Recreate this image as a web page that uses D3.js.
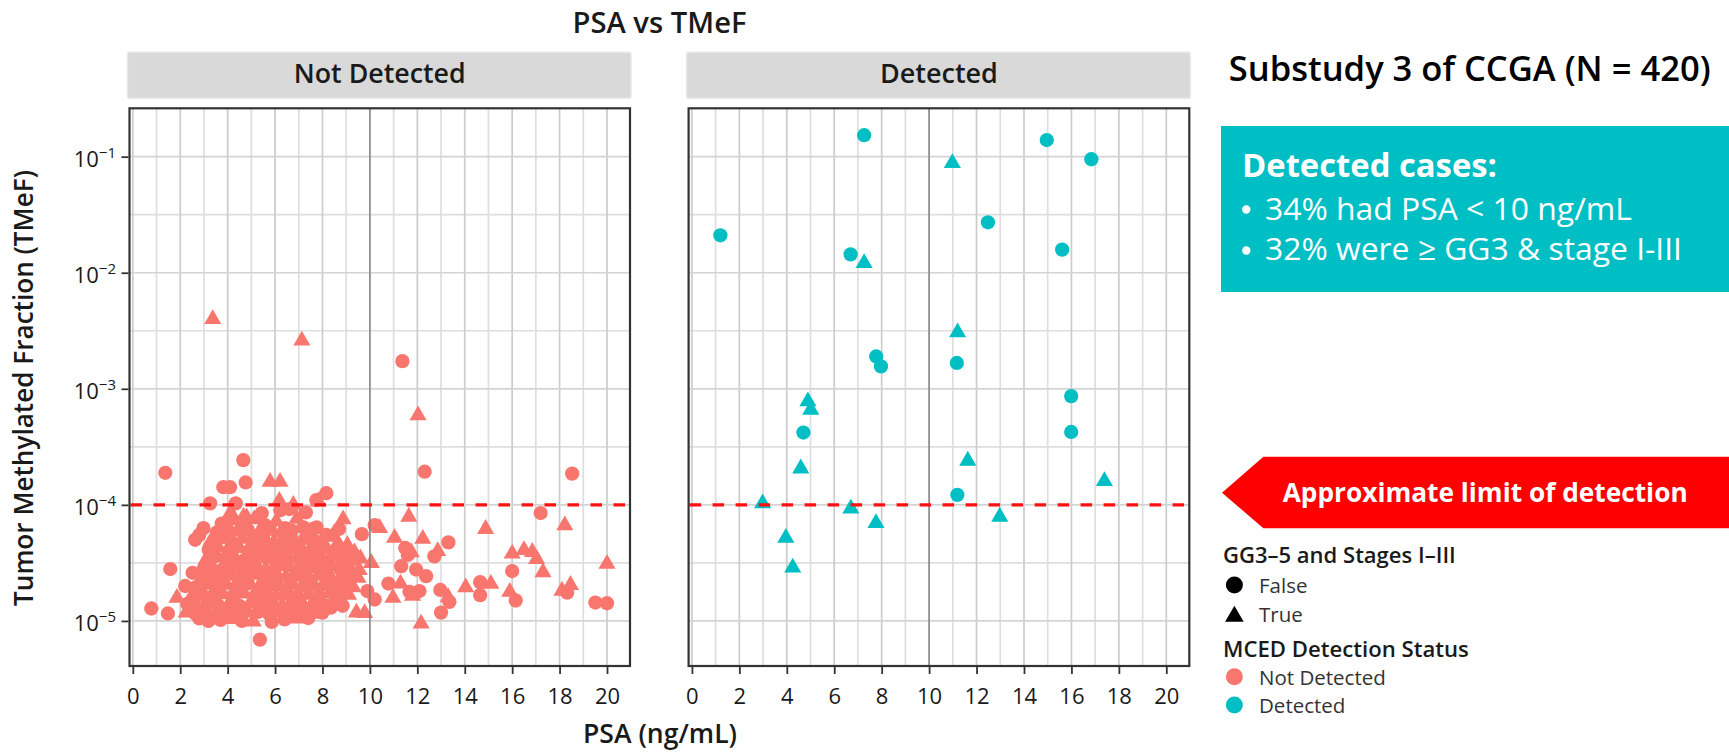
<!DOCTYPE html>
<html>
<head>
<meta charset="utf-8">
<script src="https://cdn.jsdelivr.net/npm/d3@7"></script>
<style>
  body { margin: 0; background: #fff; }
  svg { display: block; }
  text { font-family: "Open Sans", "Noto Sans", sans-serif; }
</style>
</head>
<body>
<script>
// ---- data ----
const facets = ['Not Detected', 'Detected'];
const xTicks = [0, 2, 4, 6, 8, 10, 12, 14, 16, 18, 20];
const xMinorTicks = [1, 3, 5, 7, 9, 11, 13, 15, 17, 19];
const yTicks = [1e-1, 1e-2, 1e-3, 1e-4, 1e-5];
const yTickExponents = ['\u22121', '\u22122', '\u22123', '\u22124', '\u22125'];
const yMinorTicks = [3.162e-2, 3.162e-3, 3.162e-4, 3.162e-5];
const limitOfDetection = 1e-4;
const psaCutoff = 10;

// [PSA, TMeF] - circles: GG3-5 and stages I-III = False
const notDetectedFalse = [
  [11.37, 1.73e-3],
  [1.37, 1.89e-4], [4.66, 2.43e-4], [12.31, 1.93e-4], [18.53, 1.86e-4],
  [4.76, 1.56e-4], [3.82, 1.42e-4], [4.10, 1.42e-4], [8.16, 1.26e-4], [7.74, 1.1e-4],
  [3.26, 1.03e-4], [4.34, 1.03e-4], [5.44, 8.5e-5], [6.22, 9.0e-5], [6.6, 9.2e-5],
  [7.3, 8.6e-5], [17.2, 8.5e-5], [6.42, 6.3e-5], [2.98, 6.3e-5], [2.8, 5.5e-5],
  [2.63, 5.0e-5], [10.2, 6.7e-5], [9.66, 5.6e-5], [13.31, 4.75e-5], [11.49, 4.25e-5],
  [11.6, 3.7e-5], [12.72, 3.6e-5], [11.32, 2.96e-5], [11.95, 2.77e-5], [12.37, 2.43e-5],
  [16.0, 2.69e-5], [1.58, 2.8e-5], [2.52, 2.6e-5], [2.21, 2.0e-5], [10.78, 2.1e-5],
  [14.65, 2.16e-5], [11.67, 1.78e-5], [12.09, 1.81e-5], [12.97, 1.85e-5], [9.89, 1.81e-5],
  [18.32, 1.75e-5], [10.2, 1.53e-5], [14.65, 1.67e-5], [16.15, 1.5e-5], [13.35, 1.46e-5],
  [19.51, 1.44e-5], [20.0, 1.42e-5], [8.44, 1.39e-5], [0.78, 1.28e-5], [1.48, 1.16e-5],
  [13.0, 1.18e-5], [3.19, 1.0e-5], [5.86, 9.8e-6], [5.36, 6.9e-6],
  // dense cluster
  [3.75, 6.9e-5], [4.62, 6.8e-5], [5.58, 6.7e-5], [7.2, 6.4e-5], [7.75, 6.4e-5], [8.7, 6.2e-5], [8.16, 5.5e-5],
  [3.55, 5.8e-5], [3.98, 6.2e-5], [4.85, 6.1e-5], [5.78, 6.2e-5], [6.7, 6.0e-5],
  [3.7, 5.2e-5], [4.15, 4.8e-5], [5.05, 4.9e-5], [5.5, 5.2e-5], [6.4, 5.1e-5], [7.3, 5.2e-5], [7.7, 4.8e-5],
  [3.2, 4.1e-5], [4.05, 4.0e-5], [4.95, 4.1e-5], [5.4, 4.3e-5], [6.3, 4.2e-5], [6.75, 4.35e-5], [7.6, 4.2e-5], [8.05, 4.3e-5], [8.95, 4.1e-5],
  [3.45, 3.6e-5], [3.9, 3.45e-5], [4.75, 3.4e-5], [5.65, 3.5e-5], [6.1, 3.4e-5], [7.0, 3.45e-5], [7.9, 3.4e-5], [8.8, 3.5e-5],
  [3.0, 2.85e-5], [3.8, 2.8e-5], [4.25, 2.95e-5], [5.15, 3.0e-5], [6.05, 2.9e-5], [6.5, 3.0e-5], [7.4, 2.95e-5], [8.3, 3.0e-5], [8.75, 2.8e-5],
  [3.3, 2.45e-5], [3.75, 2.35e-5], [4.65, 2.4e-5], [5.55, 2.35e-5], [6.0, 2.45e-5], [6.9, 2.5e-5], [7.35, 2.35e-5], [8.25, 2.4e-5], [9.1, 2.45e-5],
  [2.65, 1.95e-5], [3.5, 1.95e-5], [4.4, 2.0e-5], [4.85, 2.1e-5], [5.75, 2.05e-5], [6.65, 2.1e-5], [7.55, 2.05e-5], [8.45, 1.95e-5], [8.9, 2.05e-5],
  [2.9, 1.7e-5], [3.35, 1.62e-5], [4.25, 1.65e-5], [5.15, 1.62e-5], [5.6, 1.7e-5], [6.5, 1.72e-5], [6.95, 1.62e-5], [7.85, 1.65e-5], [8.75, 1.6e-5],
  [2.3, 1.4e-5], [3.15, 1.42e-5], [3.6, 1.36e-5], [4.5, 1.35e-5], [5.4, 1.37e-5], [5.85, 1.41e-5], [6.75, 1.42e-5], [7.65, 1.4e-5], [8.1, 1.36e-5], [8.85, 1.35e-5],
  [2.65, 1.15e-5], [3.05, 1.2e-5], [3.95, 1.19e-5], [4.4, 1.14e-5], [5.3, 1.2e-5], [5.75, 1.15e-5], [6.65, 1.16e-5], [7.1, 1.2e-5], [8.0, 1.18e-5], [8.35, 1.3e-5],
  [2.8, 1.05e-5], [3.7, 1.02e-5], [4.6, 1.0e-5], [6.4, 1.03e-5], [7.4, 1.06e-5]
];

// triangles: GG3-5 and stages I-III = True
const notDetectedTrue = [
  [3.37, 3.98e-3], [7.13, 2.6e-3], [12.03, 5.9e-4],
  [5.79, 1.58e-4], [6.21, 1.58e-4], [6.18, 1.08e-4], [6.77, 1.0e-4], [7.82, 1.07e-4],
  [4.1, 8.4e-5], [4.8, 7.8e-5], [4.2, 8.1e-5], [4.67, 7.9e-5], [8.87, 7.5e-5],
  [11.64, 7.9e-5], [18.22, 6.65e-5], [14.88, 6.2e-5], [10.41, 6.3e-5], [11.04, 5.2e-5],
  [12.23, 5.1e-5], [12.86, 4.0e-5], [11.75, 3.9e-5], [16.0, 3.8e-5], [16.5, 4.07e-5],
  [16.85, 3.93e-5], [17.03, 3.42e-5], [10.06, 3.16e-5], [9.0, 3.16e-5], [20.0, 3.1e-5],
  [17.3, 2.63e-5], [11.29, 2.1e-5], [15.1, 2.09e-5], [18.46, 2.04e-5], [14.04, 1.95e-5],
  [18.1, 1.82e-5], [15.9, 1.78e-5], [11.8, 1.65e-5], [13.3, 1.6e-5], [10.97, 1.58e-5],
  [1.86, 1.58e-5], [9.43, 1.18e-5], [9.78, 1.17e-5], [12.16, 9.5e-6], [5.08, 9.9e-6],
  // dense cluster
  [4.25, 7.4e-5], [5.12, 7.5e-5], [6.05, 7.2e-5], [6.92, 7.6e-5],
  [4.4, 5.9e-5], [5.3, 5.7e-5], [6.25, 5.8e-5], [7.5, 5.9e-5], [8.4, 5.3e-5],
  [3.3, 4.9e-5], [4.6, 5.1e-5], [5.95, 4.8e-5], [6.85, 4.9e-5], [8.65, 4.7e-5], [9.05, 4.5e-5],
  [3.6, 4.3e-5], [4.5, 4.25e-5], [5.85, 4.0e-5], [7.15, 4.1e-5], [8.5, 4.0e-5], [9.35, 3.9e-5],
  [3.1, 3.4e-5], [4.3, 3.55e-5], [5.2, 3.6e-5], [6.55, 3.6e-5], [7.45, 3.55e-5], [8.35, 3.6e-5], [9.25, 3.3e-5], [9.6, 3.45e-5],
  [3.35, 2.95e-5], [4.7, 2.85e-5], [5.6, 2.8e-5], [6.95, 2.8e-5], [7.85, 2.85e-5], [9.15, 2.9e-5], [9.55, 2.75e-5],
  [2.9, 2.35e-5], [4.2, 2.45e-5], [5.1, 2.5e-5], [6.45, 2.4e-5], [7.8, 2.45e-5], [8.7, 2.3e-5], [9.5, 2.35e-5],
  [3.05, 2.05e-5], [3.95, 2.05e-5], [5.3, 1.95e-5], [6.2, 1.98e-5], [7.1, 1.95e-5], [8.0, 2.0e-5], [9.3, 1.95e-5],
  [2.5, 1.65e-5], [3.8, 1.7e-5], [4.7, 1.72e-5], [6.05, 1.65e-5], [7.4, 1.68e-5], [8.3, 1.72e-5], [9.1, 1.68e-5],
  [2.7, 1.36e-5], [4.05, 1.4e-5], [4.95, 1.42e-5], [6.3, 1.36e-5], [7.2, 1.37e-5], [8.55, 1.42e-5],
  [2.25, 1.18e-5], [3.5, 1.16e-5], [4.85, 1.18e-5], [6.2, 1.19e-5], [7.55, 1.15e-5],
  [4.15, 1.04e-5], [6.9, 1.05e-5]
];

const detectedFalse = [
  [7.26, 0.153], [14.96, 0.139], [16.84, 0.095], [1.20, 0.021], [12.48, 0.0272],
  [6.69, 0.0144], [15.61, 0.0158], [7.77, 1.9e-3], [7.97, 1.56e-3], [11.17, 1.67e-3],
  [4.70, 4.2e-4], [15.99, 8.65e-4], [15.99, 4.25e-4], [11.19, 1.22e-4]
];

const detectedTrue = [
  [10.98, 0.088], [7.26, 0.0121], [11.2, 3.06e-3], [4.89, 7.8e-4], [5.01, 6.6e-4],
  [4.59, 2.06e-4], [11.63, 2.4e-4], [17.39, 1.6e-4], [2.98, 1.03e-4], [6.70, 9.3e-5],
  [7.76, 6.97e-5], [12.98, 7.9e-5], [3.96, 5.2e-5], [4.25, 2.88e-5]
];

const facetData = [
  {falseCases: notDetectedFalse, trueCases: notDetectedTrue},
  {falseCases: detectedFalse, trueCases: detectedTrue}
];

const summaryLines = ['34% had PSA < 10 ng/mL', '32% were \u2265 GG3 & stage I-III'];

// ---- layout ----
const WIDTH = 1729;
const HEIGHT = 752;
const PANEL_TOP = 108.3;
const PANEL_BOTTOM = 666;
const PANELS = [{x0: 129.5, x1: 630}, {x0: 688.6, x1: 1189.3}];
const STRIP_TEXT_WIDTHS = [172, 118];
const COLORS = ['#F8766D', '#00BFC4'];

var translate = function(x, y){
  return 'translate(' + x + ',' + y + ')';
};

// scale font size so a label spans the measured width
var fitText = function(sel, width){
  var len = sel.node().getComputedTextLength();
  var size = parseFloat(sel.attr('font-size'));
  sel.attr('font-size', (size * width / len).toFixed(2));
  return sel;
};

var yScale = d3.scaleLog()
  .domain([4.09e-6, 0.261])
  .range([PANEL_BOTTOM, PANEL_TOP]);

var circle = d3.symbol().type(d3.symbolCircle).size(160);
var triangle = d3.symbol().type(d3.symbolTriangle).size(127);

var svg = d3.select('body')
  .append('svg')
  .attr('width', WIDTH)
  .attr('height', HEIGHT);

// title
fitText(svg.append('text')
  .attr('x', 659.5).attr('y', 33.3)
  .attr('text-anchor', 'middle')
  .attr('font-size', 27).attr('font-weight', 600)
  .attr('fill', '#1a1a1a')
  .text('PSA vs TMeF'), 174);

PANELS.forEach(function(p, i){
  var xScale = d3.scaleLinear()
    .domain([-0.14, 20.97])
    .range([p.x0, p.x1]);
  var g = svg.append('g');

  // strip
  g.append('rect')
    .attr('x', p.x0 - 2).attr('y', 52.3)
    .attr('width', p.x1 - p.x0 + 3).attr('height', 46)
    .attr('rx', 2)
    .attr('fill', '#d9d9d9').attr('stroke', '#e8e8e8').attr('stroke-width', 1.5);
  fitText(g.append('text')
    .attr('x', (p.x0 + p.x1) / 2).attr('y', 83.3)
    .attr('text-anchor', 'middle')
    .attr('font-size', 25).attr('font-weight', 600)
    .attr('fill', '#1a1a1a')
    .text(facets[i]), STRIP_TEXT_WIDTHS[i]);

  // grid
  g.append('g').selectAll('line').data(xMinorTicks).enter().append('line')
    .attr('x1', d => xScale(d)).attr('x2', d => xScale(d))
    .attr('y1', PANEL_TOP).attr('y2', PANEL_BOTTOM)
    .attr('stroke', '#dedede').attr('stroke-width', 1.7);
  g.append('g').selectAll('line').data(yMinorTicks).enter().append('line')
    .attr('x1', p.x0).attr('x2', p.x1)
    .attr('y1', d => yScale(d)).attr('y2', d => yScale(d))
    .attr('stroke', '#dedede').attr('stroke-width', 1.7);
  g.append('g').selectAll('line').data(xTicks).enter().append('line')
    .attr('x1', d => xScale(d)).attr('x2', d => xScale(d))
    .attr('y1', PANEL_TOP).attr('y2', PANEL_BOTTOM)
    .attr('stroke', '#cccccc').attr('stroke-width', 1.7);
  g.append('g').selectAll('line').data(yTicks).enter().append('line')
    .attr('x1', p.x0).attr('x2', p.x1)
    .attr('y1', d => yScale(d)).attr('y2', d => yScale(d))
    .attr('stroke', '#d4d4d4').attr('stroke-width', 1.7);

  // points
  var pts = g.append('g').attr('fill', COLORS[i]);
  pts.selectAll('path.f').data(facetData[i].falseCases).enter().append('path')
    .attr('transform', d => translate(xScale(d[0]), yScale(d[1])))
    .attr('d', circle);
  pts.selectAll('path.t').data(facetData[i].trueCases).enter().append('path')
    .attr('transform', d => translate(xScale(d[0]), yScale(d[1])))
    .attr('d', triangle);

  // PSA 10 reference and limit of detection
  g.append('line')
    .attr('x1', xScale(psaCutoff)).attr('x2', xScale(psaCutoff))
    .attr('y1', PANEL_TOP).attr('y2', PANEL_BOTTOM)
    .attr('stroke', '#7a7a7a').attr('stroke-width', 1.5).attr('opacity', 0.85);
  g.append('line')
    .attr('x1', p.x0 + 1).attr('x2', p.x1 - 1)
    .attr('y1', yScale(limitOfDetection)).attr('y2', yScale(limitOfDetection))
    .attr('stroke', '#ff1010').attr('stroke-width', 3.2)
    .attr('stroke-dasharray', '11.5,11.5');

  // border
  g.append('rect')
    .attr('x', p.x0).attr('y', PANEL_TOP)
    .attr('width', p.x1 - p.x0).attr('height', PANEL_BOTTOM - PANEL_TOP)
    .attr('fill', 'none').attr('stroke', '#333').attr('stroke-width', 2.2);

  // x axis
  var xAxis = d3.axisBottom(xScale).tickValues(xTicks).tickSize(7).tickPadding(14.5);
  var ax = g.append('g')
    .attr('transform', translate(0, PANEL_BOTTOM + 1))
    .call(xAxis);
  ax.select('.domain').remove();
  ax.selectAll('line').attr('stroke', '#333').attr('stroke-width', 1.8);
  ax.selectAll('text').attr('font-size', 22).attr('fill', '#1a1a1a');

  // y axis on the first panel only
  if (i === 0) {
    var yAxis = d3.axisLeft(yScale).tickValues(yTicks).tickSize(7).tickPadding(5.5).tickFormat('');
    var ay = g.append('g')
      .attr('transform', translate(p.x0 - 1, 0))
      .call(yAxis);
    ay.select('.domain').remove();
    ay.selectAll('line').attr('stroke', '#333').attr('stroke-width', 1.8);
    ay.selectAll('.tick text').each(function(d, j){
      var t = d3.select(this).attr('dy', null).attr('y', 9.6)
        .attr('font-size', 22).attr('fill', '#1a1a1a');
      t.append('tspan').text('10');
      t.append('tspan').attr('dy', -8.6).attr('font-size', 15).text(yTickExponents[j]);
    });
  }
});

// axis titles
fitText(svg.append('text')
  .attr('x', 660).attr('y', 743)
  .attr('text-anchor', 'middle')
  .attr('font-size', 24).attr('font-weight', 600)
  .attr('fill', '#1a1a1a')
  .text('PSA (ng/mL)'), 154);
fitText(svg.append('text')
  .attr('transform', translate(33, 388) + ' rotate(-90)')
  .attr('text-anchor', 'middle')
  .attr('font-size', 24).attr('font-weight', 600)
  .attr('fill', '#1a1a1a')
  .text('Tumor Methylated Fraction (TMeF)'), 436);

// right-hand annotations
fitText(svg.append('text')
  .attr('x', 1228.7).attr('y', 80.7)
  .attr('font-size', 30).attr('font-weight', 600)
  .attr('fill', '#000')
  .text('Substudy 3 of CCGA (N = 420)'), 482);

svg.append('rect')
  .attr('x', 1221).attr('y', 126)
  .attr('width', WIDTH - 1221).attr('height', 166)
  .attr('fill', '#00BFC4');
fitText(svg.append('text')
  .attr('x', 1242).attr('y', 177)
  .attr('font-size', 28).attr('font-weight', 700)
  .attr('fill', '#fff')
  .text('Detected cases:'), 255);
[[220, 209.5, 367], [260, 250.5, 417]].forEach(function(b, k){
  svg.append('circle')
    .attr('cx', 1246.3).attr('cy', b[1]).attr('r', 4.2)
    .attr('fill', '#fff');
  fitText(svg.append('text')
    .attr('x', 1265).attr('y', b[0])
    .attr('font-size', 28).attr('fill', '#fff')
    .text(summaryLines[k]), b[2]);
});

svg.append('polygon')
  .attr('points', [[1222, 492.7], [1263.4, 456.7], [WIDTH, 456.7], [WIDTH, 528.3], [1263.4, 528.3]].join(' '))
  .attr('fill', '#fe0000');
fitText(svg.append('text')
  .attr('x', 1282.7).attr('y', 501.7)
  .attr('font-size', 24).attr('font-weight', 700)
  .attr('fill', '#fff')
  .text('Approximate limit of detection'), 405);

// legends
var legend = svg.append('g');
fitText(legend.append('text')
  .attr('x', 1223).attr('y', 563.3)
  .attr('font-size', 19).attr('font-weight', 600).attr('fill', '#1a1a1a')
  .text('GG3\u20135 and Stages I\u2013III'), 233);
legend.append('path')
  .attr('transform', translate(1234.4, 585))
  .attr('d', d3.symbol().type(d3.symbolCircle).size(227)())
  .attr('fill', '#000');
legend.append('path')
  .attr('transform', translate(1234.4, 616.5))
  .attr('d', d3.symbol().type(d3.symbolTriangle).size(150)())
  .attr('fill', '#000');
legend.append('text')
  .attr('x', 1259).attr('y', 593)
  .attr('font-size', 20.5).attr('fill', '#333')
  .text('False');
legend.append('text')
  .attr('x', 1259).attr('y', 621.7)
  .attr('font-size', 20.5).attr('fill', '#333')
  .text('True');

fitText(legend.append('text')
  .attr('x', 1223).attr('y', 656.7)
  .attr('font-size', 19).attr('font-weight', 600).attr('fill', '#1a1a1a')
  .text('MCED Detection Status'), 246);
[[676.7, 685], [705, 713.3]].forEach(function(r, k){
  legend.append('circle')
    .attr('cx', 1234.4).attr('cy', r[0]).attr('r', 8.5)
    .attr('fill', COLORS[k]);
  legend.append('text')
    .attr('x', 1259).attr('y', r[1])
    .attr('font-size', 20.5).attr('fill', '#333')
    .text(facets[k]);
});
</script>
</body>
</html>
